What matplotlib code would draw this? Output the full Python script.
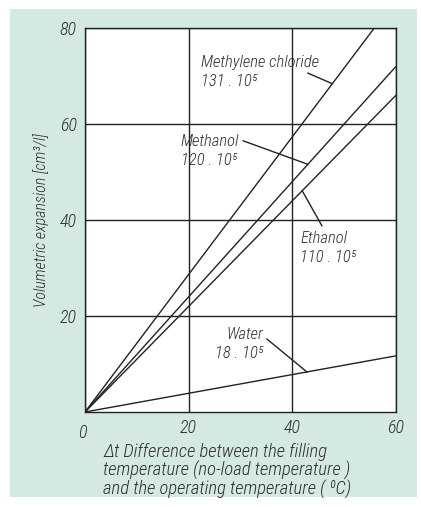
import matplotlib
matplotlib.use("Agg")
import matplotlib.pyplot as plt
from matplotlib.patches import Rectangle

# data
fluids = ["Methylene chloride", "Methanol", "Ethanol", "Water"]
coeffs = ["131", "120", "110", "18"]
dt = [0, 60]
expansion_at_60 = [86, 72, 66, 11.7]

x_ticks = [0, 20, 40, 60]
y_ticks = [20, 40, 60, 80]

# label placement (text anchor, leader start, leader end on the line)
label_pos = [(22.4, 70.8), (18.5, 54.4), (41.5, 34.2), (34.3, 14.2)]
label_ha = ["left", "left", "left", "right"]
leader_from = [(43.0, 70.6), (30.5, 56.5), (45.7, 38.8), (35.1, 15.2)]
leader_to = [(47.7, 68.4), (43.0, 51.6), (41.9, 46.1), (42.8, 8.35)]

FONT = ["Roboto Condensed", "DejaVu Sans"]
WEIGHT = "light"
TEAL = "#d5e9e4"
INK = "#2e2e2e"

W, H = 421, 507
fig = plt.figure(figsize=(W / 100, H / 100), dpi=100)
fig.patch.set_facecolor("white")
panel = Rectangle((10 / W, 1 - 497 / H), 407 / W, 488 / H,
                  transform=fig.transFigure, facecolor=TEAL,
                  edgecolor="none", zorder=-5)
fig.add_artist(panel)

ax = fig.add_axes([85 / W, 1 - 412 / H, 311 / W, 384 / H])
ax.set_zorder(1)
ax.set_facecolor("white")

for name, end in zip(fluids, expansion_at_60):
    ax.plot(dt, [0, end], color="#222222", lw=1.0, solid_capstyle="butt")

ax.set_xlim(0, 60)
ax.set_ylim(0, 80)
ax.set_xticks(x_ticks)
ax.set_yticks(y_ticks)
ax.set_xticklabels(["", "20", "40", "60"])
ax.set_yticklabels([str(v) for v in y_ticks])
ax.grid(True, color="#222222", lw=1.0)
ax.set_axisbelow(True)
for s in ax.spines.values():
    s.set_color("#222222")
    s.set_linewidth(1.0)
ax.tick_params(length=0, labelsize=13, colors=INK)
ax.tick_params(axis="x", pad=5)
ax.tick_params(axis="y", pad=6)
for lbl in ax.get_xticklabels() + ax.get_yticklabels():
    lbl.set_family(FONT)
    lbl.set_style("italic")
    lbl.set_weight(WEIGHT)
# the origin "0" sits below the corner
ax.text(-0.6, -2.6, "0", ha="center", va="top", fontsize=13, color=INK,
        family=FONT, style="italic", weight=WEIGHT)

for name, c, pos, ha, p0, p1 in zip(fluids, coeffs, label_pos, label_ha,
                                    leader_from, leader_to):
    ax.text(pos[0], pos[1], f"{name}\n{c} . 10\u2075", ha=ha, va="center",
            multialignment=ha, linespacing=1.35, fontsize=12, color=INK,
            family=FONT, style="italic", weight=WEIGHT)
    ax.plot([p0[0], p1[0]], [p0[1], p1[1]], color="#222222", lw=1.0)

ax.set_ylabel("Volumetric expansion [cm\u00b3/l]", fontsize=11.5, color=INK,
              family=FONT, style="italic", weight=WEIGHT, labelpad=8)

fig.text(103 / W, 1 - 471 / H,
         "\u0394t Difference between the filling\n"
         "temperature (no-load temperature )\n"
         "and the operating temperature ( \u2070C)",
         ha="left", va="center", linespacing=1.0, fontsize=13.4,
         color=INK, family=FONT, style="italic", weight=WEIGHT)

fig.savefig("out.png", dpi=100)
